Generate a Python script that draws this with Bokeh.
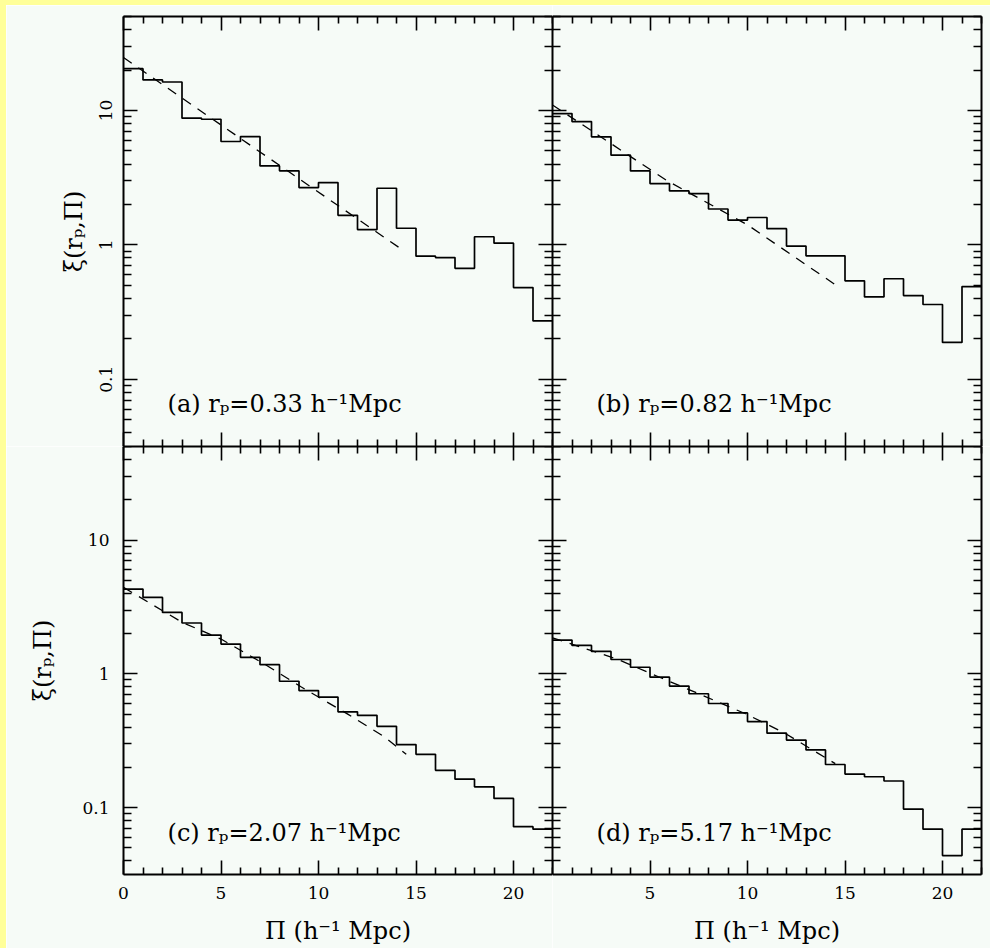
from bokeh.plotting import figure
from bokeh.models import (FixedTicker, LinearAxis, LogAxis, Label, Div, Range1d,
                          CustomJSTickFormatter)
from bokeh.layouts import gridplot, row, column
from bokeh.embed import file_html
from bokeh.resources import INLINE

# ---------------- data ----------------
pi_edges = list(range(0, 23))          # bin edges in Pi (h^-1 Mpc), 22 bins of width 1

xi_a = [20.5, 16.9, 16.3, 8.77, 8.61, 5.88, 6.40, 3.87, 3.56, 2.67, 2.91,
        1.66, 1.30, 2.64, 1.33, 0.824, 0.805, 0.67, 1.15, 1.03, 0.481, 0.272]
xi_b = [9.50, 8.28, 6.37, 4.65, 3.55, 2.86, 2.52, 2.41, 1.85, 1.53, 1.60,
        1.32, 0.98, 0.83, 0.83, 0.54, 0.41, 0.56, 0.42, 0.36, 0.188, 0.49]
xi_c = [4.30, 3.73, 2.88, 2.40, 1.95, 1.67, 1.33, 1.17, 0.88, 0.75, 0.67,
        0.52, 0.49, 0.405, 0.296, 0.25, 0.19, 0.163, 0.143, 0.117, 0.072, 0.069]
xi_d = [1.79, 1.63, 1.47, 1.28, 1.12, 0.945, 0.81, 0.71, 0.60, 0.51, 0.44,
        0.36, 0.32, 0.27, 0.21, 0.178, 0.17, 0.158, 0.0975, 0.069, 0.0438, 0.069]

# dashed model curves (points read along the dashes)
model_pi_a = [0.0, 7.0, 14.3]
model_a = [24.8, 4.92, 0.92]
model_pi_b = [0.0, 5.9, 10.0, 14.5]
model_b = [11.0, 2.99, 1.41, 0.506]
model_pi_c = [0.0, 3.0, 5.0, 7.2, 9.1, 11.5, 13.4, 14.5]
model_c = [4.43, 2.43, 1.82, 1.19, 0.80, 0.50, 0.337, 0.25]
model_pi_d = [0.0, 3.3, 5.4, 7.5, 9.9, 11.9, 14.5]
model_d = [1.86, 1.29, 0.955, 0.71, 0.503, 0.361, 0.213]

panel_tags = ["a", "b", "c", "d"]
rp_values = ["0.33", "0.82", "2.07", "5.17"]

x_major = [0, 5, 10, 15, 20]
x_minor = [i for i in range(0, 23) if i % 5]
y_major = [0.1, 1, 10]
y_minor = [m * 10.0 ** e for e in (-2, -1, 0, 1) for m in range(2, 10)]

# ---------------- style ----------------
BG = "#f6fbf7"
YELLOW = "#ffff99"
FONT = "DejaVu Serif"
X_RANGE = (0, 22)
Y_RANGE = (0.0316, 50.1)

x_title = "\u03a0 (h\u207b\u00b9 Mpc)"
y_title = "\u03be(r\u209a,\u03a0)"


def style_axis(ax, is_x, labels):
    ax.ticker = FixedTicker(ticks=x_major if is_x else y_major,
                            minor_ticks=x_minor if is_x else y_minor)
    ax.axis_line_width = 2
    ax.axis_line_color = "black"
    ax.major_tick_in = 14
    ax.major_tick_out = 0
    ax.minor_tick_in = 7 if is_x else 8
    ax.minor_tick_out = 0
    ax.major_tick_line_width = 1.6
    ax.minor_tick_line_width = 1.6
    ax.major_tick_line_color = "black"
    ax.minor_tick_line_color = "black"
    ax.major_label_text_font = FONT
    ax.axis_label_text_font = FONT
    ax.axis_label_text_font_style = "normal"
    ax.axis_label_text_color = "black"
    if not labels:
        ax.formatter = CustomJSTickFormatter(code="return ''")
        ax.major_label_text_font_size = "1px"
        ax.major_label_text_color = None
        ax.major_label_standoff = 0
        ax.axis_label = None
    else:
        ax.formatter = CustomJSTickFormatter(code="return String(tick)")
        ax.major_label_text_font_size = "17px"
        ax.major_label_text_color = "black"


def make_panel(idx, vals, mx, my, left_border, right_border, top_border, bottom_border,
               frame_h, xlabels, ylabels, ylabel_vertical, hide_zero):
    p = figure(frame_width=429, frame_height=frame_h,
               x_range=Range1d(*X_RANGE), y_range=Range1d(*Y_RANGE),
               y_axis_type="log", output_backend="svg", toolbar_location=None,
               min_border=0, min_border_left=left_border, min_border_right=right_border,
               min_border_top=top_border, min_border_bottom=bottom_border,
               background_fill_color=BG, border_fill_color=BG)
    p.outline_line_color = None
    p.xgrid.visible = False
    p.ygrid.visible = False

    bottom_ax = p.below[0]
    left_ax = p.left[0]
    top_ax = LinearAxis()
    right_ax = LogAxis()
    p.add_layout(top_ax, "above")
    p.add_layout(right_ax, "right")

    style_axis(bottom_ax, True, xlabels)
    style_axis(top_ax, True, False)
    style_axis(left_ax, False, ylabels)
    style_axis(right_ax, False, False)

    if xlabels:
        bottom_ax.axis_label = x_title
        bottom_ax.axis_label_text_font_size = "24px"
        bottom_ax.major_label_standoff = 12
        bottom_ax.axis_label_standoff = 15
        if hide_zero:
            bottom_ax.formatter = CustomJSTickFormatter(
                code="return tick == 0 ? '' : String(tick)")
    if ylabels:
        left_ax.axis_label = y_title
        left_ax.axis_label_text_font_size = "24px"
        if ylabel_vertical:
            left_ax.major_label_orientation = "vertical"
            left_ax.major_label_standoff = 11
            left_ax.axis_label_standoff = 10
        else:
            left_ax.major_label_standoff = 14
            left_ax.axis_label_standoff = 22

    y_steps = vals + vals[-1:]
    p.step(x=pi_edges, y=y_steps, mode="after", line_color="black", line_width=1.7)
    p.line(x=mx, y=my, line_color="black", line_width=1.3, line_dash="10 8")

    text = "(%s) r\u209a=%s h\u207b\u00b9Mpc" % (panel_tags[idx], rp_values[idx])
    p.add_layout(Label(x=2.26, y=0.065, text=text, text_font=FONT,
                       text_font_size="24px", text_color="black",
                       text_align="left", text_baseline="alphabetic"))
    return p


pa = make_panel(0, xi_a, model_pi_a, model_a, 117, 0, 11, 0, 430, False, True, True, False)
pb = make_panel(1, xi_b, model_pi_b, model_b, 0, 9, 11, 0, 430, False, False, False, False)
pc = make_panel(2, xi_c, model_pi_c, model_c, 117, 0, 0, 74, 428, True, True, False, False)
pd = make_panel(3, xi_d, model_pi_d, model_d, 0, 9, 0, 74, 428, True, False, False, True)

grid = gridplot([[pa, pb], [pc, pd]], toolbar_location=None)

left_strip = Div(text="", width=6, height=948, margin=0,
                 styles={"background-color": YELLOW})
top_strip = Div(text="", width=984, height=5, margin=0,
                styles={"background-color": YELLOW})
layout = row(left_strip, column(top_strip, grid, spacing=0), spacing=0)

open("out.html", "w").write(file_html(layout, INLINE, title="xi(rp, Pi)"))
